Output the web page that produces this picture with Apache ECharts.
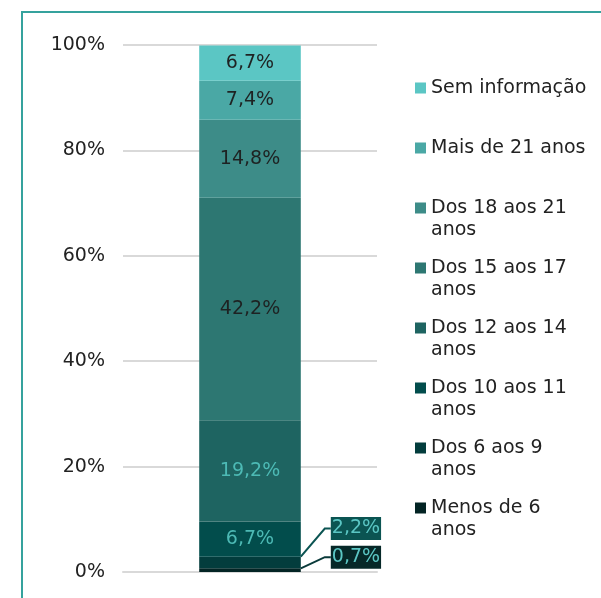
<!DOCTYPE html>
<html>
<head>
<meta charset="utf-8">
<script src="https://cdn.jsdelivr.net/npm/echarts@6/dist/echarts.min.js"></script>
<style>html,body{margin:0;padding:0;background:#fff;}#c{width:601px;height:598px;}</style>
</head>
<body>
<div id="c"></div>
<script>
// Series listed bottom of the stack first
const seriesNames = ['Menos de 6 anos','Dos 6 aos 9 anos','Dos 10 aos 11 anos','Dos 12 aos 14 anos','Dos 15 aos 17 anos','Dos 18 aos 21 anos','Mais de 21 anos','Sem informação'];
const legendLabels = ['Menos de 6\nanos','Dos 6 aos 9\nanos','Dos 10 aos 11\nanos','Dos 12 aos 14\nanos','Dos 15 aos 17\nanos','Dos 18 aos 21\nanos','Mais de 21 anos\n ','Sem informação\n '];
const values = [0.7, 2.2, 6.7, 19.2, 42.2, 14.8, 7.4, 6.7];
const colors = ['#032424','#033d3d','#024d4c','#1e6461','#2d7772','#3d8c88','#4aa8a5','#5bc6c4'];
const labelColors = ['#5bc6c4','#5bc6c4','#4dbab5','#4dbab5','#1e2222','#1e2222','#1e2222','#1e2222'];
const calloutBg = ['#062828','#0b5452'];
const categories = ['Total'];
const yTicks = [0, 20, 40, 60, 80, 100];

const FONT = 'DejaVu Sans';
const FS = 19;
const fmt = v => v.toFixed(1).replace('.', ',') + '%';

const series = seriesNames.map((name, i) => {
  const s = {
    name: name,
    type: 'bar',
    stack: 'total',
    barWidth: '40%',
    data: [values[i]],
    itemStyle: { color: colors[i] },
    label: {
      show: true,
      position: 'inside',
      formatter: p => fmt(p.value),
      color: labelColors[i],
      fontFamily: FONT,
      fontSize: FS
    }
  };
  if (i < 2) {
    s.label.position = 'right';
    s.label.distance = 0;
    s.label.backgroundColor = calloutBg[i];
    s.label.padding = [3, 1, 1, 1];
    s.labelLayout = { dx: 30, dy: i === 0 ? -13 : -34 };
    s.labelLine = { show: true, length2: 6, lineStyle: { color: i === 0 ? '#0a3a3a' : '#0b5452', width: 2 } };
  }
  return s;
});

const chart = echarts.init(document.getElementById('c'));
chart.setOption({
  animation: false,
  backgroundColor: '#fff',
  textStyle: { fontFamily: FONT },
  grid: { left: 123, right: 224, top: 45, bottom: 26 },
  xAxis: {
    type: 'category',
    data: categories,
    axisLine: { show: true, lineStyle: { color: '#d9d9d9', width: 2 } },
    axisTick: { show: false },
    axisLabel: { show: false }
  },
  yAxis: {
    type: 'value',
    min: 0, max: 100, interval: 20,
    axisLine: { show: false },
    axisTick: { show: false },
    splitLine: { lineStyle: { color: '#d9d9d9', width: 2 } },
    axisLabel: {
      formatter: v => yTicks.includes(v) ? v + '%' : '',
      color: '#222', fontFamily: FONT, fontSize: FS, margin: 18
    }
  },
  legend: {
    orient: 'vertical',
    left: 415, top: 77,
    padding: 0,
    itemWidth: 11, itemHeight: 33,
    itemGap: 16,
    icon: 'path://M0,0H11V11H0Z M0,33H0.01V33.01H0Z',
    data: seriesNames.slice().reverse(),
    formatter: n => legendLabels[seriesNames.indexOf(n)],
    textStyle: { fontFamily: FONT, fontSize: FS, color: '#222', lineHeight: 22 }
  },
  graphic: [{
    type: 'polyline',
    shape: { points: [[22, 598], [22, 12], [601, 12]] },
    style: { stroke: '#35a29d', lineWidth: 2, fill: null }
  }],
  series: series
});
</script>
</body>
</html>
